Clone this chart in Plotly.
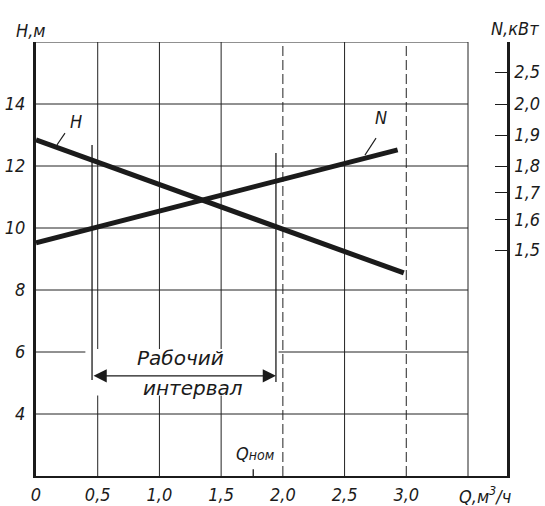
import numpy as np
import plotly.graph_objects as go

# ---- data ----
Q_H = [0.0, 2.98]          # m3/h
H_vals = [12.84, 8.55]     # m
Q_N = [0.0, 2.93]          # m3/h
N_vals = [1.524, 1.852]    # kW

x_tick_vals = [0, 0.5, 1.0, 1.5, 2.0, 2.5, 3.0]
x_tick_text = ["0", "0,5", "1,0", "1,5", "2,0", "2,5", "3,0"]
h_tick_vals = [4, 6, 8, 10, 12, 14]
h_tick_text = ["4", "6", "8", "10", "12", "14"]

# right (N) scale is non-uniform in the drawing: kW value -> place on the H grid
N_tick_kw = [1.5, 1.6, 1.7, 1.8, 1.9, 2.0, 2.5]
N_tick_text = ["1,5", "1,6", "1,7", "1,8", "1,9", "2,0", "2,5"]
N_tick_pos = [9.29, 10.26, 11.13, 12.0, 13.0, 14.0, 15.03]

Q_nom = 1.76
work_lo, work_hi = 0.454, 1.944

grid_h = [4, 6, 8, 10, 12, 14, 16]
grid_v = [0.5, 1.0, 1.5, 2.0, 2.5, 3.0, 3.5]
grid_v_dashed = [2.0, 3.0]

FONT = "DejaVu Sans Condensed, DejaVu Sans, sans-serif"
FONT_WIDE = "DejaVu Sans, sans-serif"
INK = "#1b1b1b"
GRID = "#222222"

N_plot = np.interp(N_vals, N_tick_kw, N_tick_pos)

def it(s):
    return "<i>" + s + "</i>" if s else s

fig = go.Figure()
fig.add_trace(go.Scatter(x=Q_H, y=H_vals, mode="lines",
                         line=dict(color=INK, width=5), showlegend=False,
                         hoverinfo="skip"))
fig.add_trace(go.Scatter(x=Q_N, y=N_plot, mode="lines", yaxis="y2",
                         line=dict(color=INK, width=5), showlegend=False,
                         hoverinfo="skip"))

shapes = []
for h in grid_h:
    shapes.append(dict(type="line", xref="x", yref="y", x0=0, x1=3.5, y0=h, y1=h,
                       line=dict(color=GRID, width=1), layer="below"))
for v in grid_v:
    shapes.append(dict(type="line", xref="x", yref="y", x0=v, x1=v, y0=2, y1=16,
                       line=dict(color=GRID, width=1,
                                 dash="10px,4px" if v in grid_v_dashed else "solid"),
                       layer="below"))
# white space behind the "working interval" caption
shapes.append(dict(type="rect", xref="x", yref="y", x0=0.40, x1=1.965, y0=4.6, y1=6.1,
                   fillcolor="white", line=dict(width=0), layer="below"))
# working interval boundaries
shapes.append(dict(type="line", xref="x", yref="y", x0=work_lo, x1=work_lo, y0=5.10, y1=12.68,
                   line=dict(color=INK, width=1.3)))
shapes.append(dict(type="line", xref="x", yref="y", x0=work_hi, x1=work_hi, y0=5.03, y1=12.42,
                   line=dict(color=INK, width=1.3)))
# Q nom tick on the axis
shapes.append(dict(type="line", xref="x", yref="y", x0=Q_nom, x1=Q_nom, y0=2, y1=2.22,
                   line=dict(color=INK, width=1.3)))
# leader lines of curve labels
shapes.append(dict(type="line", xref="x", yref="y", x0=0.235, x1=0.170, y0=13.06, y1=12.68,
                   line=dict(color=INK, width=1.1)))
shapes.append(dict(type="line", xref="x", yref="y", x0=2.755, x1=2.665, y0=12.90, y1=12.35,
                   line=dict(color=INK, width=1.1)))

ann = []
def txt(x, y, s, size=18, xref="x", yref="y", family=FONT):
    ann.append(dict(x=x, y=y, xref=xref, yref=yref, text="<i>" + s + "</i>", showarrow=False,
                    font=dict(family=family, size=size, color=INK),
                    xanchor="center", yanchor="middle"))

txt(-0.0106, 1.0276, "H,м", xref="paper", yref="paper")
txt(1.017, 1.032, "N,кВт", xref="paper", yref="paper")
txt(0.953, -0.0438, "Q,м<sup>3</sup>/ч", xref="paper", yref="paper")
txt(1.78, 2.74, "Q<span style='font-size:14px'>ном</span>", size=18)
txt(0.324, 13.42, "H")
txt(2.795, 13.55, "N")
txt(1.167, 5.81, "Рабочий", size=20, family=FONT_WIDE)
txt(1.272, 4.84, "интервал", size=20, family=FONT_WIDE)

ann.append(dict(x=work_hi, y=5.23, ax=work_lo, ay=5.23, xref="x", yref="y",
                axref="x", ayref="y", text="", showarrow=True,
                arrowhead=2, arrowside="end+start", arrowsize=2.2, arrowwidth=1.2,
                arrowcolor=INK, standoff=0, startstandoff=0))

tickfont = dict(family=FONT, size=18, color=INK)

fig.update_layout(
    template="none",
    width=545, height=506,
    margin=dict(l=36, r=38, t=42, b=30, pad=0),
    paper_bgcolor="white", plot_bgcolor="white",
    showlegend=False,
    shapes=shapes, annotations=ann,
    xaxis=dict(range=[0, 3.816], tickvals=x_tick_vals, ticktext=[it(s) for s in x_tick_text],
               showgrid=False, zeroline=False, showline=True, linecolor=INK,
               linewidth=2, ticks="", ticklabelstandoff=1, tickfont=tickfont,
               automargin=False, fixedrange=True),
    yaxis=dict(range=[2, 16], tickvals=h_tick_vals, ticktext=[it(s) for s in h_tick_text],
               showgrid=False, zeroline=False, showline=True, linecolor=INK,
               linewidth=3, ticks="", ticklabelstandoff=4, tickfont=tickfont,
               automargin=False, fixedrange=True),
    yaxis2=dict(range=[2, 16], overlaying="y", side="right", anchor="x",
                tickvals=N_tick_pos + [16], ticktext=[it(s) for s in N_tick_text] + [""],
                showgrid=False, zeroline=False, showline=True, linecolor=INK,
                linewidth=2.5, ticks="inside", ticklen=12, tickwidth=1.3,
                tickcolor=INK, ticklabelstandoff=1, tickfont=tickfont,
                automargin=False, fixedrange=True),
)

fig.write_html("out.html", config={"displayModeBar": False},
               post_script="document.body.style.margin='0';document.body.style.overflow='hidden';")
